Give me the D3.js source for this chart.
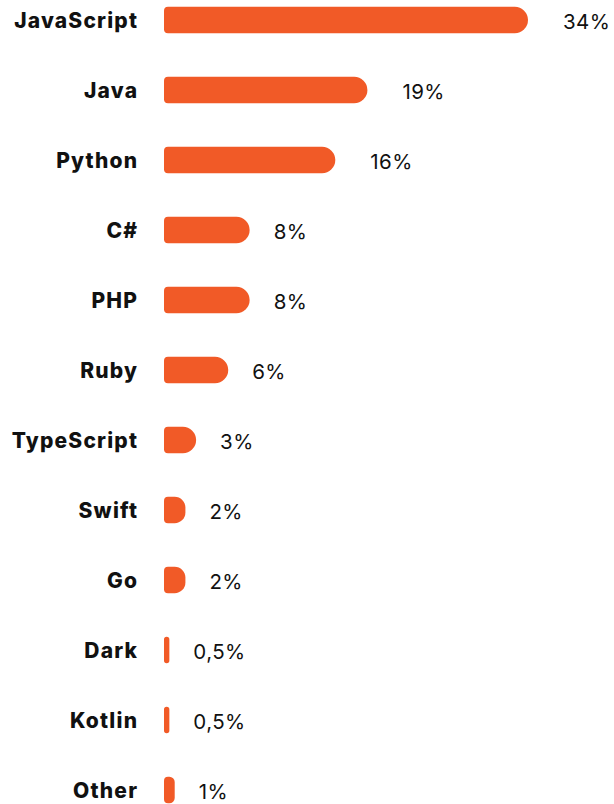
<!DOCTYPE html>
<html>
<head>
<meta charset="utf-8">
<script src="https://cdn.jsdelivr.net/npm/d3@7"></script>
<style>
  html, body { margin: 0; padding: 0; background: #fff; }
  svg { display: block; }
</style>
</head>
<body>
<svg id="chart" width="614" height="804"></svg>
<script>
// Share of developers by main programming language
const languages = ["JavaScript", "Java", "Python", "C#", "PHP", "Ruby", "TypeScript", "Swift", "Go", "Dark", "Kotlin", "Other"];
const shares = [34, 19, 16, 8, 8, 6, 3, 2, 2, 0.5, 0.5, 1];
const shareLabels = ["34%", "19%", "16%", "8%", "8%", "6%", "3%", "2%", "2%", "0,5%", "0,5%", "1%"];

const width = 614, height = 804;
const svg = d3.select("#chart");

const x = d3.scaleLinear().domain([0, 34]).range([164, 528]);
const y = d3.scaleBand().domain(languages).range([-15, 825]).paddingInner(0.63).paddingOuter(0.315);

const barH = 26.5;
const accent = "#F15A27";

// bar with small left corners and a large rounded right end
function barPath(x0, yc, w, h) {
  const top = yc - h / 2, bot = yc + h / 2;
  const rR = Math.min(h / 2, w / 2);
  const rL = Math.min(4, w / 2);
  const x1 = x0 + w;
  return `M${x0 + rL},${top}` +
    `H${x1 - rR}` +
    `A${rR},${rR} 0 0 1 ${x1},${top + rR}` +
    `V${bot - rR}` +
    `A${rR},${rR} 0 0 1 ${x1 - rR},${bot}` +
    `H${x0 + rL}` +
    `A${rL},${rL} 0 0 1 ${x0},${bot - rL}` +
    `V${top + rL}` +
    `A${rL},${rL} 0 0 1 ${x0 + rL},${top}Z`;
}

const rows = languages.map((name, i) => ({ name, value: shares[i], label: shareLabels[i] }));

const yc = d => y(d.name) + y.bandwidth() / 2;

svg.append("g").selectAll("path")
  .data(rows)
  .join("path")
  .attr("d", d => barPath(x(0), yc(d), x(d.value) - x(0), barH))
  .attr("fill", accent);

svg.append("g").selectAll("text")
  .data(rows)
  .join("text")
  .attr("x", 138.2)
  .attr("y", d => yc(d))
  .attr("dy", "0.36em")
  .attr("text-anchor", "end")
  .attr("font-family", "Inter, 'Noto Sans', sans-serif")
  .attr("font-weight", 800)
  .attr("font-size", 21)
  .attr("letter-spacing", 1.2)
  .attr("fill", "#111")
  .text(d => d.name);

svg.append("g").selectAll("text")
  .data(rows)
  .join("text")
  .attr("x", d => x(d.value) + (d.value >= 10 ? 35 : 24))
  .attr("y", d => yc(d) + 2)
  .attr("dy", "0.35em")
  .attr("font-family", "Inter, 'Noto Sans', sans-serif")
  .attr("font-weight", 400)
  .attr("font-size", 20.5)
  .attr("letter-spacing", 0.4)
  .attr("fill", "#111")
  .text(d => d.label);
</script>
</body>
</html>
